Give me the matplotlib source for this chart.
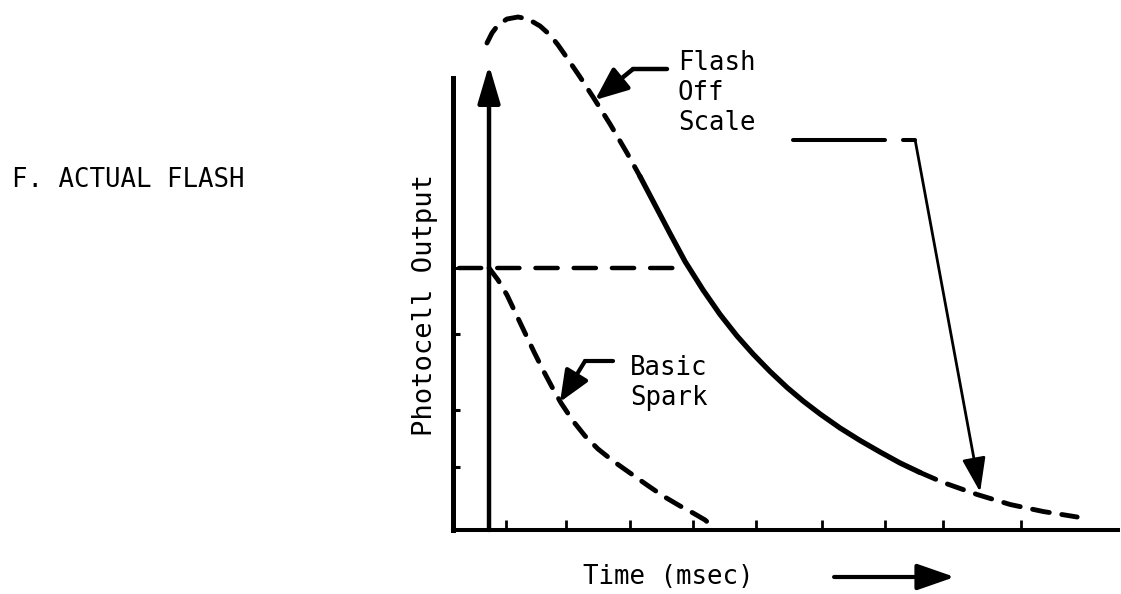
import numpy as np
import matplotlib
matplotlib.use('Agg')
import matplotlib.pyplot as plt

# Flash curve (time in msec, photocell output in arbitrary units)
flash_time = [0.535, 0.614, 0.709, 0.850, 1.024, 1.181, 1.370, 1.528, 1.654, 1.764,
              2.000, 2.205, 2.472, 2.740, 2.945, 3.181, 3.417, 3.654, 3.937, 4.205,
              4.472, 4.724, 4.992, 5.260, 5.512, 5.780, 6.094, 6.409, 6.724, 7.039,
              7.354, 7.717, 8.252, 8.772, 9.291, 9.827]
flash_output = [9.74, 9.94, 10.10, 10.22, 10.26, 10.22, 10.08, 9.90, 9.70, 9.50,
                9.06, 8.66, 8.12, 7.54, 7.07, 6.50, 5.93, 5.37, 4.80, 4.31,
                3.88, 3.52, 3.17, 2.85, 2.58, 2.32, 2.04, 1.79, 1.56, 1.34,
                1.15, 0.95, 0.71, 0.51, 0.37, 0.26]
# part of the flash trace that is actually on scale (drawn solid)
on_scale = (2.945, 7.354)

# Basic spark curve
spark_time = [0.567, 0.709, 0.850, 0.992, 1.134, 1.276, 1.417, 1.559, 1.701, 1.890,
              2.079, 2.283, 2.520, 2.787, 3.055, 3.307, 3.575, 3.780, 3.969, 4.094]
spark_output = [5.24, 5.00, 4.70, 4.32, 3.94, 3.56, 3.20, 2.86, 2.54, 2.18,
                1.88, 1.62, 1.38, 1.14, 0.90, 0.68, 0.48, 0.34, 0.20, 0.06]

# Spark trigger spike and spark peak level
spike_time = 0.567
spike_top = 9.3
spark_level = 5.24

x_ticks = [0.835, 1.780, 2.787, 3.780, 4.772, 5.811, 6.803, 7.717, 8.945]
y_ticks = [5.24, 3.92, 2.40, 1.26]

font = 'DejaVu Sans Mono'
plt.rcParams['font.family'] = font

fig = plt.figure(figsize=(11.21, 5.94), dpi=100)
ax = fig.add_axes([453 / 1121, 64 / 594, 665 / 1121, 520 / 594])
ax.set_xlim(0, 10.47)
ax.set_ylim(0, 10.4)

for s in ['top', 'right']:
    ax.spines[s].set_visible(False)
ax.spines['left'].set_linewidth(3.6)
ax.spines['left'].set_bounds(0, 9.04)
ax.spines['bottom'].set_linewidth(2.9)

ax.set_xticks(x_ticks)
ax.set_yticks(y_ticks)
ax.set_xticklabels([])
ax.set_yticklabels([])
ax.tick_params(axis='x', direction='in', length=7.5, width=2.0)
ax.tick_params(axis='y', direction='in', length=5, width=2.2)

ft = np.array(flash_time)
fo = np.array(flash_output)
solid = (ft >= on_scale[0]) & (ft <= on_scale[1])
before = ft <= on_scale[0]
after = ft >= on_scale[1]

dash_kw = dict(color='black', lw=3.5, dashes=(3.5, 2.6), dash_capstyle='round',
               dash_joinstyle='round', clip_on=False)
ax.plot(ft[before], fo[before], **dash_kw)
ax.plot(ft[after], fo[after], **dash_kw)
ax.plot(ft[solid], fo[solid], color='black', lw=3.8, solid_capstyle='round',
        solid_joinstyle='round', clip_on=False)

ax.plot(spark_time, spark_output, **dash_kw)

# horizontal dashed level line
ax.plot([0.1, 3.6], [spark_level, spark_level], color='black', lw=3.2,
        dashes=(5.0, 3.6), dash_capstyle='round')

# spike with arrow head
ax.annotate('', xy=(spike_time, spike_top), xytext=(spike_time, 0),
            arrowprops=dict(arrowstyle='-|>,head_length=1.15,head_width=0.34',
                            mutation_scale=20, lw=3.2, color='black',
                            shrinkA=0, shrinkB=0),
            annotation_clip=False)

# "Flash Off Scale" pointer
ax.plot([3.37, 2.835], [9.22, 9.22], color='black', lw=3.2, solid_capstyle='round')
ax.annotate('', xy=(2.236, 8.60), xytext=(2.835, 9.22),
            arrowprops=dict(arrowstyle='-|>,head_length=1.0,head_width=0.42',
                            mutation_scale=20, lw=3.2, color='black',
                            shrinkA=0, shrinkB=0))
ax.text(3.54, 8.74, 'Flash\nOff\nScale', fontsize=18.5, va='center', ha='left',
        linespacing=1.2)

# second pointer to the off-scale tail
ax.plot([5.354, 6.803], [7.8, 7.8], color='black', lw=2.9, solid_capstyle='round')
ax.plot([7.087, 7.276], [7.8, 7.8], color='black', lw=2.9, solid_capstyle='round')
ax.annotate('', xy=(8.299, 0.76), xytext=(7.276, 7.8),
            arrowprops=dict(arrowstyle='-|>,head_length=1.05,head_width=0.36',
                            mutation_scale=20, lw=2.0, color='black',
                            shrinkA=0, shrinkB=0))

# "Basic Spark" pointer
ax.plot([2.52, 2.079], [3.38, 3.38], color='black', lw=3.0, solid_capstyle='round')
ax.annotate('', xy=(1.685, 2.56), xytext=(2.079, 3.38),
            arrowprops=dict(arrowstyle='-|>,head_length=0.95,head_width=0.4',
                            mutation_scale=20, lw=3.0, color='black',
                            shrinkA=0, shrinkB=0))
ax.text(2.787, 2.94, 'Basic\nSpark', fontsize=18.5, va='center', ha='left',
        linespacing=1.2)

# axis labels
ax.text(3.39, -0.94, 'Time (msec)', fontsize=18.5, ha='center', va='center')
ax.annotate('', xy=(7.9, -0.94), xytext=(6.0, -0.94),
            arrowprops=dict(arrowstyle='-|>,head_length=1.15,head_width=0.4',
                            mutation_scale=20, lw=3.0, color='black',
                            shrinkA=0, shrinkB=0),
            annotation_clip=False)
ax.text(-0.44, 4.5, 'Photocell Output', fontsize=19.5, rotation=90,
        ha='center', va='center')

fig.text(12 / 1121, 1 - 180 / 594, 'F. ACTUAL FLASH', fontsize=18.5,
         ha='left', va='center')

fig.savefig('out.png', dpi=100)
